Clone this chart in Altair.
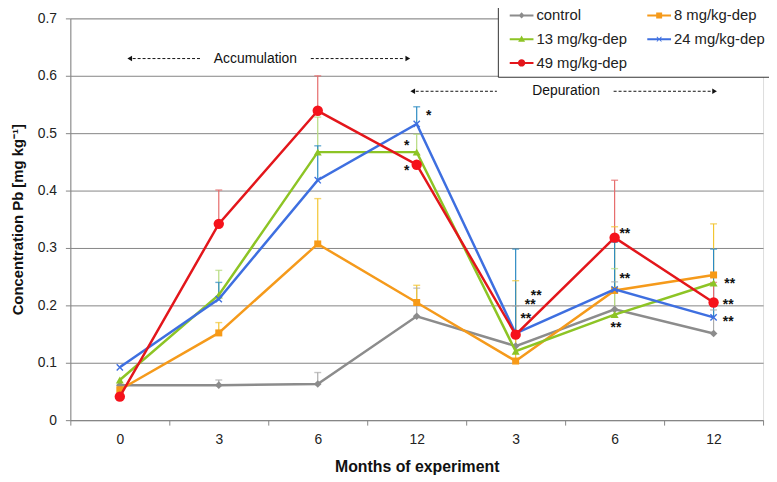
import json
import altair as alt

# ---------------- data ----------------
month_labels = ["0", "3", "6", "12", "3", "6", "12"]
series_names = ["control", "8 mg/kg-dep", "13 mg/kg-dep", "24 mg/kg-dep", "49 mg/kg-dep"]

control = [0.061, 0.061, 0.063, 0.181, 0.129, 0.193, 0.151]
mg8 = [0.053, 0.152, 0.307, 0.205, 0.103, 0.226, 0.253]
mg13 = [0.070, 0.218, 0.467, 0.467, 0.120, 0.184, 0.239]
mg24 = [0.092, 0.211, 0.418, 0.516, 0.151, 0.228, 0.179]
mg49 = [0.041, 0.342, 0.539, 0.445, 0.149, 0.318, 0.205]

# upper ends of the error bars
control_err = [None, 0.070, 0.083, 0.230, 0.199, 0.241, 0.192]
mg8_err = [None, 0.170, 0.386, 0.235, 0.243, 0.337, 0.342]
mg13_err = [None, 0.261, 0.528, 0.498, None, 0.264, None]
mg24_err = [None, 0.240, 0.478, 0.546, 0.298, 0.310, 0.298]
mg49_err = [None, 0.401, 0.600, None, None, 0.418, 0.240]

# annotations (x in month-slot units, y in mg/kg)
phase_labels = ["Accumulation", "Depuration"]
phase_x = [1.37, 4.51]
phase_y = [0.630, 0.573]
dash_x1 = [0.13, 1.93, 2.99, 4.99]
dash_x2 = [0.81, 2.88, 3.81, 5.98]
dash_y = [0.630, 0.630, 0.573, 0.573]
head_x = [0.10, 2.91, 2.96, 6.01]
head_y = [0.630, 0.630, 0.573, 0.573]
head_dir = ["left", "right", "left", "right"]

star_x = [3.12, 2.90, 2.90, 4.207, 4.147, 4.103, 5.103, 5.103, 5.013, 6.163, 6.147, 6.147]
star_y = [0.535, 0.482, 0.439, 0.222, 0.206, 0.182, 0.330, 0.251, 0.166, 0.242, 0.205, 0.176]
star_t = ["*", "*", "*", "**", "**", "**", "**", "**", "**", "**", "**", "**"]

# ---------------- styles ----------------
FONT = "Liberation Sans"
line_colors = ["#8C8C8C", "#F59A1B", "#8DC425", "#3E6FE0", "#E3161B"]
marker_colors = ["#8C8C8C", "#F79A17", "#8DC425", "#3E6FE0", "#F5121B"]
err_colors = ["#ABABAB", "#F2C531", "#B5DA7E", "#2B8AC2", "#E66A6A"]
marker_shapes = ["diamond", "square", "triangle-up", "M-1,-1L1,1M1,-1L-1,1", "circle"]
marker_sizes = [60, 50, 65, 40, 110]

LINE = "M-1,-0.085H1V0.085H-1Z"
legend_paths = [
    LINE + "M0,-0.27L0.25,0L0,0.27L-0.25,0Z",
    LINE + "M-0.25,-0.25H0.25V0.25H-0.25Z",
    LINE + "M0,-0.3L0.29,0.22H-0.29Z",
    LINE + "M-0.22,-0.17L-0.17,-0.22L0.22,0.17L0.17,0.22Z"
           "M-0.17,0.22L-0.22,0.17L0.17,-0.22L0.22,-0.17Z",
    LINE + "M-0.31,0A0.31,0.31 0 1,1 0.31,0A0.31,0.31 0 1,1 -0.31,0Z",
]

rows = []
for name, vals, errs in zip(series_names, [control, mg8, mg13, mg24, mg49],
                            [control_err, mg8_err, mg13_err, mg24_err, mg49_err]):
    for i, (v, e) in enumerate(zip(vals, errs)):
        rows.append({"series": name, "idx": i, "value": v, "err": e})
data = alt.Data(values=rows)

ytitle = "Concentration Pb [mg kg\u207b\u00b9]"
yscale = alt.Scale(domain=[0, 0.7], nice=False, zero=False)
yaxis = alt.Axis(values=[0, 0.1, 0.2, 0.3, 0.4, 0.5, 0.6, 0.7], format=".1~f",
                 grid=True, gridColor="#858585", gridWidth=1,
                 domainColor="#858585", tickColor="#858585", tickSize=5,
                 labelFontSize=14, labelPadding=9, labelColor="#222", labelFont=FONT,
                 titleFontSize=15, titleFontWeight="bold", titlePadding=12,
                 titleColor="#111", titleFont=FONT)


def Y(field):
    return alt.Y(f"{field}:Q", scale=yscale, axis=yaxis, title=ytitle)


X = alt.X("idx:O", scale=alt.Scale(domain=list(range(len(month_labels))), paddingInner=0, paddingOuter=0),
          title="Months of experiment",
          axis=alt.Axis(labelExpr=f"{json.dumps(month_labels)}[datum.value]",
                        tickBand="extent", tickSize=5, tickColor="#858585",
                        domainColor="#858585", labelAngle=0, labelFontSize=14,
                        labelPadding=8, labelColor="#222", labelFont=FONT,
                        titleFontSize=16, titleFontWeight="bold", titlePadding=12,
                        titleColor="#111", titleFont=FONT, grid=False))

XQ = lambda f: alt.X(f"{f}:Q", scale=alt.Scale(domain=[-0.5, 6.5], nice=False, zero=False),
                     axis=None)

err_scale = alt.Scale(domain=series_names, range=err_colors)

base = alt.Chart(data)

legend_spec = alt.Legend(title=None, orient="none", legendX=432, legendY=-21, columns=2,
                         direction="horizontal",
                         symbolSize=576, symbolStrokeWidth=0, symbolOpacity=1, symbolOffset=6,
                         labelFontSize=15, labelFont=FONT, labelColor="#222", labelOffset=3,
                         columnPadding=14, rowPadding=4, padding=6,
                         strokeColor="#333", fillColor="white")
legend_layer = alt.Chart(alt.Data(values=[{"series": s, "blank": None} for s in series_names])).mark_point(
    filled=True, opacity=1).encode(
    y=Y("blank"),
    color=alt.Color("series:N", scale=alt.Scale(domain=series_names, range=line_colors), legend=legend_spec),
    shape=alt.Shape("series:N", scale=alt.Scale(domain=series_names, range=legend_paths), legend=legend_spec),
)

err_rule = base.mark_rule(strokeWidth=1.2).encode(
    x=X, y=Y("value"), y2="err:Q",
    stroke=alt.Stroke("series:N", scale=err_scale, legend=None),
).transform_filter("isValid(datum.err)")

err_cap = base.mark_tick(thickness=1.4, size=7).encode(
    x=X, y=Y("err"),
    fill=alt.Fill("series:N", scale=err_scale, legend=None),
).transform_filter("isValid(datum.err)")

main_layers = [legend_layer, err_rule, err_cap]
for name, lc, mc, shp, sz in zip(series_names, line_colors, marker_colors, marker_shapes, marker_sizes):
    sub = base.transform_filter(alt.datum.series == name)
    main_layers.append(sub.mark_line(strokeWidth=2.5, color=lc).encode(x=X, y=Y("value")))
    if shp.startswith("M"):
        mk = sub.mark_point(shape=shp, filled=False, size=sz, strokeWidth=1.4, opacity=1, color=mc)
    else:
        mk = sub.mark_point(shape=shp, filled=True, size=sz, opacity=1, color=mc)
    main_layers.append(mk.encode(x=X, y=Y("value")))

phase_data = alt.Data(values=[{"u": x, "y": y, "label": t} for x, y, t in zip(phase_x, phase_y, phase_labels)])
dash_data = alt.Data(values=[{"u": a, "u2": b, "y": y} for a, b, y in zip(dash_x1, dash_x2, dash_y)])
head_data = alt.Data(values=[{"u": x, "y": y, "dir": d} for x, y, d in zip(head_x, head_y, head_dir)])
star_data = alt.Data(values=[{"u": x, "y": y, "label": t} for x, y, t in zip(star_x, star_y, star_t)])

annot_layers = [alt.Chart(dash_data).mark_rule(strokeDash=[3, 2], strokeWidth=1, color="#111").encode(
    x=XQ("u"), x2="u2:Q", y=Y("y"))]
for d in ["left", "right"]:
    annot_layers.append(alt.Chart(head_data).transform_filter(alt.datum.dir == d).mark_point(
        shape=f"triangle-{d}", filled=True, size=30, color="#111", opacity=1).encode(x=XQ("u"), y=Y("y")))
annot_layers.append(alt.Chart(phase_data).mark_text(font=FONT, fontSize=14, color="#111").encode(
    x=XQ("u"), y=Y("y"), text="label:N"))
annot_layers.append(alt.Chart(star_data).mark_text(font=FONT, fontSize=14, fontWeight="bold",
                                                   baseline="alphabetic", dy=7, color="#111").encode(
    x=XQ("u"), y=Y("y"), text="label:N"))

chart = alt.layer(alt.layer(*main_layers), alt.layer(*annot_layers)).resolve_scale(x="independent").properties(
    width=700, height=406,
    autosize=alt.AutoSizeParams(type="none"),
    padding={"left": 63, "top": 8, "right": 6, "bottom": 60},
).configure_view(stroke=None).configure(font=FONT)

chart.save("out.html", embed_options={"renderer": "svg", "actions": False})
